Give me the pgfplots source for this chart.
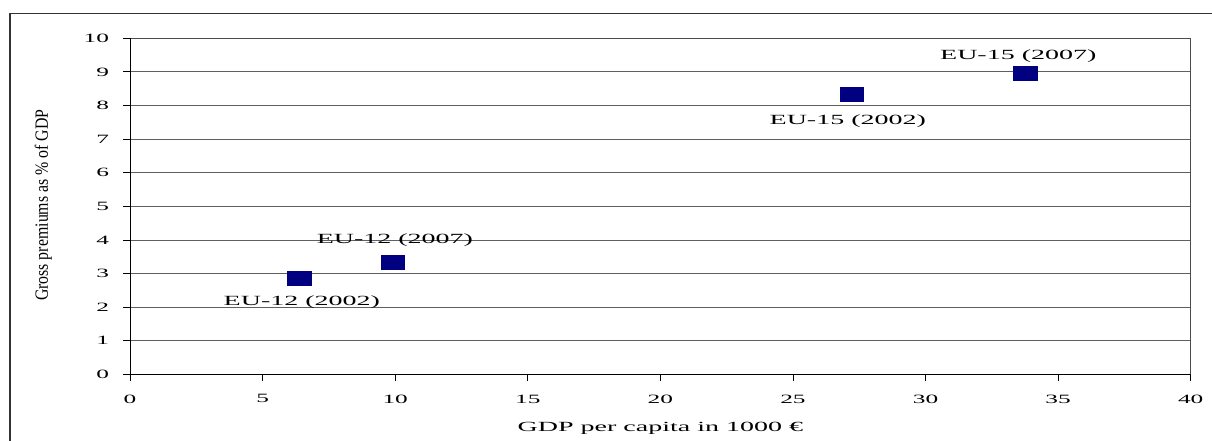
\documentclass[border=0pt]{standalone}
\usepackage{fontspec}
\setmainfont{Liberation Serif}
\newfontfamily\wide[FakeStretch=2]{Liberation Serif}
\newfontfamily\narrow[FakeStretch=0.85]{Liberation Serif}
\usepackage{pgfplots}
\pgfplotsset{compat=1.18}
\definecolor{navyblue}{RGB}{0,0,128}
\begin{document}
\begin{tikzpicture}
\begin{axis}[
  name=ax,
  at={(0,0)}, anchor=south west,
  scale only axis,
  width=795.5pt, height=252.1pt,
  xmin=0, xmax=40, ymin=0, ymax=10,
  xtick={0,5,...,40}, ytick={0,1,...,10},
  tick align=outside,
  major tick length=5pt,
  xtick pos=bottom, ytick pos=left,
  ymajorgrids,
  grid style={gray!75!black, line width=0.6pt},
  axis line style={gray!60!black, line width=0.6pt},
  tick style={black, line width=0.6pt},
  /pgf/number format/assume math mode=true,
  ticklabel style={font=\wide\fontsize{9.5}{10}\selectfont},
  yticklabel style={inner sep=0pt, xshift=-10.5pt},
  xticklabel style={inner sep=0pt, yshift=-10pt},
  xlabel={GDP per capita in 1000 €},
  xlabel style={at={(axis description cs:0.5,0)}, anchor=center, yshift=-40.2pt, font=\wide\fontsize{10.5}{12}\selectfont},
  ylabel={Gross premiums as \% of GDP},
  ylabel style={at={(axis description cs:-0.0818,0.5036)}, anchor=center, font=\narrow\fontsize{14}{16}\selectfont},
  clip=false,
]
\addplot[only marks, mark=square*, mark size=5.25pt, mark options={xscale=1.71, fill=navyblue, draw=navyblue}] coordinates {
  (6.37,2.87) (9.91,3.35) (27.22,8.34) (33.75,8.96)
};
\draw[black, line width=0.6pt] (axis cs:0,10) -- (axis cs:0,0) -- (axis cs:40,0);
\node[font=\wide\fontsize{10.5}{12}\selectfont, inner sep=0pt] at (axis cs:6.48,2.14) {EU-12 (2002)};
\node[font=\wide\fontsize{10.5}{12}\selectfont, inner sep=0pt] at (axis cs:9.99,4.0) {EU-12 (2007)};
\node[font=\wide\fontsize{10.5}{12}\selectfont, inner sep=0pt] at (axis cs:33.5,9.48) {EU-15 (2007)};
\node[font=\wide\fontsize{10.5}{12}\selectfont, inner sep=0pt] at (axis cs:27.07,7.53) {EU-15 (2002)};
\end{axis}
\pgfresetboundingbox
\path[use as bounding box] (-97.5pt,-49.95pt) rectangle (811.5pt,280.8pt);
\draw[gray!40!black, line width=0.8pt] (-90pt,-60pt) -- (-90pt,270.8pt) -- (820pt,270.8pt);
\end{tikzpicture}
\end{document}
